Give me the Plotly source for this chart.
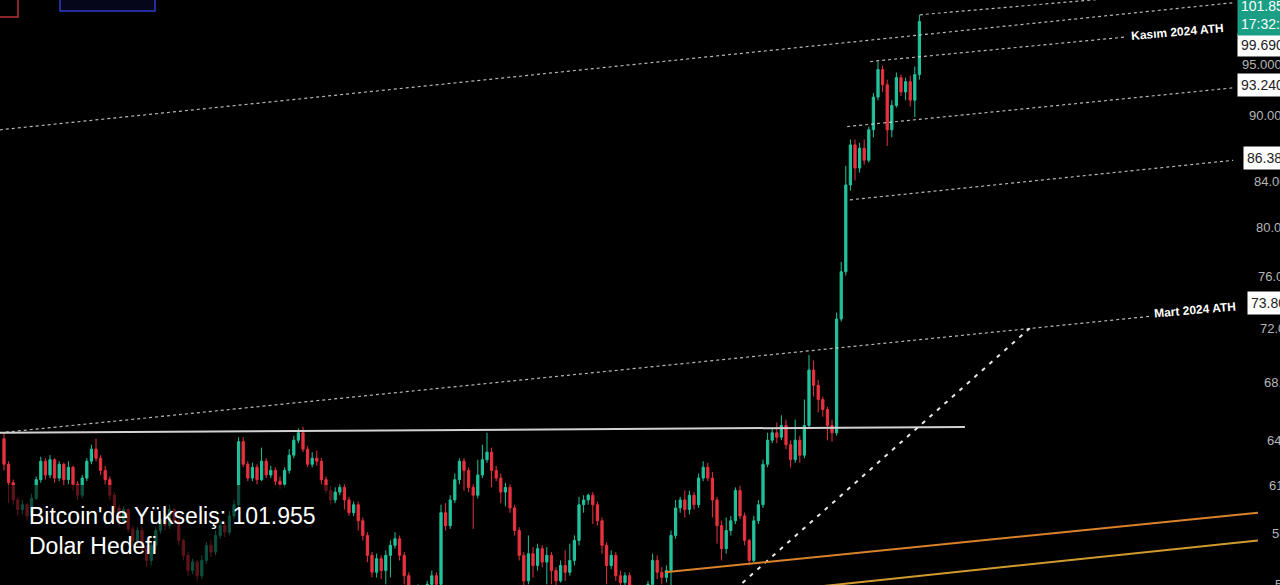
import math
import plotly.graph_objects as go

W, H = 1280, 585

# ---------------- candle data (price in thousand USD) ----------------
opens = [64.1,62.4,61.2,60.1,59.5,59.8,59.1,60.2,61.4,62.6,61.7,62.7,61.5,62.4,61.4,62.2,61.1,60.4,61.5,62.6,
         63.4,62.8,62.0,61.4,60.4,59.6,58.8,59.5,58.3,57.6,58.2,57.1,56.4,57.3,58.2,58.9,58.5,59.5,58.8,57.6,
         56.7,55.8,56.3,55.5,56.4,57.3,56.9,57.9,58.5,58.1,59.1,59.8,63.9,62.4,61.5,62.2,61.4,62.6,61.7,62.0,
         61.3,61.1,62.0,63.0,64.0,64.5,63.4,62.4,62.8,62.6,61.4,60.7,60.1,60.6,60.9,60.1,59.3,59.8,58.8,57.9,
         56.7,55.7,56.5,55.8,56.7,57.3,57.7,56.7,55.5,54.7,54.1,54.7,54.2,55.0,55.5,55.0,59.3,58.5,60.1,61.4,
         62.6,62.0,60.9,60.4,61.7,62.7,63.2,62.0,61.5,60.6,60.9,59.6,58.2,56.7,55.2,56.8,56.1,57.1,56.3,56.7,
         55.8,55.2,56.1,55.7,56.4,57.6,59.8,60.1,60.4,59.8,58.8,57.3,56.1,56.7,55.5,55.1,55.5,54.7,54.1,54.7,
         54.2,55.0,56.4,55.7,55.4,55.8,57.9,59.6,60.1,59.5,60.4,59.8,61.5,62.2,61.5,60.1,58.5,57.1,58.2,58.8,
         60.7,59.1,57.6,56.4,58.8,59.8,62.4,64.0,64.5,64.2,65.0,63.7,62.7,64.0,63.0,65.0,68.9,67.8,66.8,66.1,
         65.0,64.5,72.7,76.4,83.7,87.3,85.2,87.0,85.9,88.7,91.8,94.5,93.0,88.7,91.0,93.7,92.3,93.3,91.5,94.0]
highs = [64.5,62.6,61.4,60.3,60.1,59.9,60.5,61.6,62.9,62.8,63.0,62.8,62.6,62.5,62.6,62.3,61.3,61.7,62.8,63.7,
         64.1,63.0,62.3,61.6,60.6,59.8,59.7,59.6,58.5,58.4,58.4,57.3,57.5,58.4,59.3,59.1,59.8,59.6,59.0,57.7,
         56.9,56.5,56.4,56.7,57.5,57.6,58.2,58.8,58.7,59.4,60.1,64.2,64.2,62.6,62.5,62.4,63.5,62.8,62.3,62.2,
         61.6,62.2,63.4,64.3,64.8,64.9,63.6,63.2,63.3,62.8,61.6,61.0,60.9,61.1,61.1,60.3,60.0,60.0,59.0,58.1,
         56.9,56.8,56.7,57.0,57.6,58.1,57.9,56.9,55.7,54.8,55.0,54.9,55.2,55.8,55.7,59.8,59.9,60.4,61.8,62.8,
         62.8,62.2,61.1,62.7,63.7,64.5,63.5,62.3,61.8,61.2,61.1,59.8,58.4,56.9,57.9,57.2,57.4,57.3,57.2,56.9,
         56.0,56.4,57.0,57.4,57.9,60.3,60.4,60.5,60.6,60.0,59.0,57.5,57.0,56.9,55.8,55.7,55.7,54.8,54.9,54.8,
         55.2,56.8,56.7,56.0,56.1,58.2,60.1,60.3,60.7,60.7,60.6,61.8,62.6,62.5,61.9,60.3,58.8,59.0,59.1,60.9,
         61.0,59.3,57.7,59.1,60.1,62.7,64.5,64.8,65.2,65.7,65.4,64.0,65.4,64.3,66.8,70.0,69.6,68.2,67.0,66.3,
         65.4,73.2,77.2,85.4,87.8,87.8,87.5,87.8,89.0,92.2,95.3,94.9,93.5,91.5,94.2,94.0,93.7,93.9,94.8,100.1]
lows = [62.0,59.9,59.8,59.1,59.2,58.8,58.9,60.1,61.2,61.4,61.5,61.2,61.3,61.0,61.1,60.7,60.1,60.2,61.3,62.4,
        62.6,61.7,61.1,60.1,59.3,58.5,58.6,58.1,57.2,57.3,56.8,56.0,56.1,57.0,58.0,58.2,58.3,58.6,57.3,56.4,
        55.5,55.6,55.2,55.3,56.2,56.6,56.7,57.7,57.8,57.9,58.9,59.6,62.2,61.3,61.3,61.1,61.3,61.5,61.5,61.0,
        60.8,60.9,61.8,62.8,63.8,63.2,62.2,62.2,62.3,61.1,60.5,59.8,59.9,60.4,59.5,59.1,59.1,58.2,57.6,56.3,
        55.4,55.4,55.3,55.0,55.4,57.1,56.4,55.0,54.4,53.8,53.9,54.0,54.1,54.8,54.7,54.8,58.2,58.3,59.9,61.1,
        60.7,60.6,58.3,60.2,61.5,62.5,60.9,61.3,59.9,59.7,59.3,57.9,56.4,54.8,55.0,55.4,55.8,56.0,55.0,55.0,
        54.7,55.1,55.2,55.5,56.1,57.3,59.3,59.8,58.6,58.5,56.8,55.0,55.9,55.2,54.7,54.8,54.4,53.8,53.9,53.9,
        54.0,54.7,55.3,55.0,55.1,54.8,57.7,59.3,59.0,59.2,59.5,59.6,61.3,61.3,59.0,57.4,56.4,56.8,57.9,58.6,
        58.9,57.3,56.1,56.3,58.6,59.6,62.2,63.8,63.8,64.0,63.4,62.2,62.5,62.5,62.8,64.8,67.0,65.9,65.6,64.0,
        63.9,64.3,72.5,76.1,83.2,84.1,84.8,85.5,85.7,88.0,91.5,92.3,87.2,88.0,90.8,91.9,91.5,90.9,89.9,93.5]
closes = [62.4,61.2,60.1,59.5,59.8,59.1,60.2,61.4,62.6,61.7,62.7,61.5,62.4,61.4,62.2,61.1,60.4,61.5,62.6,63.4,
          62.8,62.0,61.4,60.4,59.6,58.8,59.5,58.3,57.6,58.2,57.1,56.4,57.3,58.2,58.9,58.5,59.5,58.8,57.6,56.7,
          55.8,56.3,55.5,56.4,57.3,56.9,57.9,58.5,58.1,59.1,59.8,63.9,62.4,61.5,62.2,61.4,62.6,61.7,62.0,61.3,
          61.1,62.0,63.0,64.0,64.5,63.4,62.4,62.8,62.6,61.4,60.7,60.1,60.6,60.9,60.1,59.3,59.8,58.8,57.9,56.7,
          55.7,56.5,55.8,56.7,57.3,57.7,56.7,55.5,54.7,54.1,54.7,54.2,55.0,55.5,55.0,59.3,58.5,60.1,61.4,62.6,
          62.0,60.9,60.4,61.7,62.7,63.2,62.0,61.5,60.6,60.9,59.6,58.2,56.7,55.2,56.8,56.1,57.1,56.3,56.7,55.8,
          55.2,56.1,55.7,56.4,57.6,59.8,60.1,60.4,59.8,58.8,57.3,56.1,56.7,55.5,55.1,55.5,54.7,54.1,54.7,54.2,
          55.0,56.4,55.7,55.4,55.8,57.9,59.6,60.1,59.5,60.4,59.8,61.5,62.2,61.5,60.1,58.5,57.1,58.2,58.8,60.7,
          59.1,57.6,56.4,58.8,59.8,62.4,64.0,64.5,64.2,65.0,63.7,62.7,64.0,63.0,65.0,68.9,67.8,66.8,66.1,65.0,
          64.5,72.7,76.4,83.7,87.3,85.2,87.0,85.9,88.7,91.8,94.5,93.0,88.7,91.0,93.7,92.3,93.3,91.5,94.0,99.4]
bars = list(range(len(closes)))

# ---------------- drawn lines (bar index, price) ----------------
support_x, support_y = [-0.9, 208.9], [64.5, 64.9]
mart_x, mart_y = [-0.9, 249.1], [64.5, 72.9]
upper_trend_x, upper_trend_y = [-0.9, 267.6], [88.7, 101.4]
peak_ray_x, peak_ray_y = [199.1, 267.6], [100.1, 103.0]
kasim_x, kasim_y = [188.3, 244.1], [95.3, 97.8]
level_93_x, level_93_y = [183.3, 267.2], [89.0, 92.7]
level_86_x, level_86_y = [183.9, 267.2], [82.4, 85.9]
diag_x, diag_y = [158.9, 223.0], [54.7, 72.0]
orange_hi_x, orange_hi_y = [143.7, 272.6], [55.7, 59.3]
orange_lo_x, orange_lo_y = [170.9, 272.6], [54.7, 57.6]

# ---------------- axis / price labels ----------------
tick_values = [95, 90, 84, 80, 76, 72, 68, 64, 61, 58, 55]
tick_texts = ["95.000", "90.000", "84.000", "80.000", "76.000", "72.000",
              "68.000", "64.000", "61.000", "58.000", "55.000"]
tick_px = [1240, 1247, 1252, 1254, 1256, 1258, 1262, 1265, 1267, 1270, 1273]

box_texts = ["99.690", "93.240", "86.380", "73.800"]
box_levels = [97.0, 93.0, 86.1, 73.9]
box_px = [1237, 1237, 1243, 1247]

last_price_text = "101.855<br>17:32:41"
caption = "Bitcoin'de Yükseliş: 101.955<br>Dolar Hedefi"

GREEN = "#22c29c"
RED = "#e8323f"

fig = go.Figure()
fig.add_trace(go.Candlestick(
    x=bars, open=opens, high=highs, low=lows, close=closes,
    increasing=dict(line=dict(color=GREEN, width=1), fillcolor=GREEN),
    decreasing=dict(line=dict(color=RED, width=1), fillcolor=RED),
    whiskerwidth=0, hoverinfo="skip", showlegend=False))

def line(x, y, color, width, dash=None):
    fig.add_trace(go.Scatter(x=x, y=y, mode="lines", hoverinfo="skip", showlegend=False,
                             line=dict(color=color, width=width, dash=dash)))

DOT = "rgba(215,215,215,0.85)"
line(upper_trend_x, upper_trend_y, DOT, 1.2, "dot")
line(peak_ray_x, peak_ray_y, DOT, 1.2, "dot")
line(kasim_x, kasim_y, DOT, 1.2, "dot")
line(level_93_x, level_93_y, DOT, 1.2, "dot")
line(level_86_x, level_86_y, DOT, 1.2, "dot")
line(mart_x, mart_y, DOT, 1.2, "dot")
line(support_x, support_y, "#d2d2d2", 2)
line(diag_x, diag_y, "#e8e8e8", 2, "4px,6px")
line(orange_hi_x, orange_hi_y, "#d9822b", 2)
line(orange_lo_x, orange_lo_y, "#cf9a2e", 2)

def px_x(p):
    return p / W

def px_y(p):
    return 1 - p / H

ann = []
for v, t, p in zip(tick_values, tick_texts, tick_px):
    ann.append(dict(x=px_x(p), xref="paper", y=math.log10(v), yref="y", yanchor="middle", xanchor="left",
                    text=t, showarrow=False, font=dict(family="Liberation Sans", size=13, color="#b5b5b5")))
for t, v, p in zip(box_texts, box_levels, box_px):
    ann.append(dict(x=px_x(p), xref="paper", y=math.log10(v), yref="y", yanchor="middle", xanchor="left",
                    text=t, showarrow=False, bgcolor="#ffffff", borderpad=3,
                    font=dict(family="Liberation Sans", size=14, color="#222222")))
ann.append(dict(x=px_x(1237), xref="paper", y=px_y(-6), yref="paper", xanchor="left", yanchor="top",
                text=last_price_text, showarrow=False, bgcolor="#1a9e84", borderpad=3, align="left",
                font=dict(family="Liberation Sans", size=14, color="#ffffff")))
ann.append(dict(x=px_x(1128), xref="paper", y=px_y(32), yref="paper", xanchor="left", yanchor="middle",
                text="<b>Kasım 2024 ATH</b>", showarrow=False, textangle=-5,
                font=dict(family="Liberation Sans", size=12, color="#ffffff")))
ann.append(dict(x=px_x(1151), xref="paper", y=px_y(310), yref="paper", xanchor="left", yanchor="middle",
                text="<b>Mart 2024 ATH</b>", showarrow=False, textangle=-5,
                font=dict(family="Liberation Sans", size=12, color="#ffffff")))
ann.append(dict(x=px_x(27), xref="paper", y=px_y(531), yref="paper", xanchor="left", yanchor="middle",
                text=caption, showarrow=False, align="left",
                font=dict(family="Liberation Sans", size=23, color="#ffffff")))

shapes = [
    dict(type="rect", xref="paper", yref="paper", x0=0, x1=px_x(332), y0=0, y1=px_y(485),
         fillcolor="rgba(0,0,0,0.6)", line=dict(width=0), layer="above"),
    dict(type="rect", xref="paper", yref="paper", x0=px_x(-6), x1=px_x(18), y0=px_y(17), y1=px_y(-8),
         line=dict(color="#b8343a", width=1.5), fillcolor="rgba(0,0,0,0)", layer="above"),
    dict(type="rect", xref="paper", yref="paper", x0=px_x(60), x1=px_x(155), y0=px_y(11), y1=px_y(-8),
         line=dict(color="#2c3ccc", width=1.5), fillcolor="#06061a", layer="above"),
]

fig.update_layout(
    width=W, height=H,
    margin=dict(l=0, r=0, t=0, b=0),
    paper_bgcolor="#000000", plot_bgcolor="#000000",
    xaxis=dict(range=[-0.87, 277.39], visible=False, rangeslider=dict(visible=False), fixedrange=True),
    yaxis=dict(type="log", range=[1.74005, 2.00719], visible=False, fixedrange=True),
    annotations=ann, shapes=shapes, showlegend=False,
)

fig.write_html("out.html", config=dict(displayModeBar=False),
               post_script="document.body.style.margin='0';document.body.style.background='#000';")
